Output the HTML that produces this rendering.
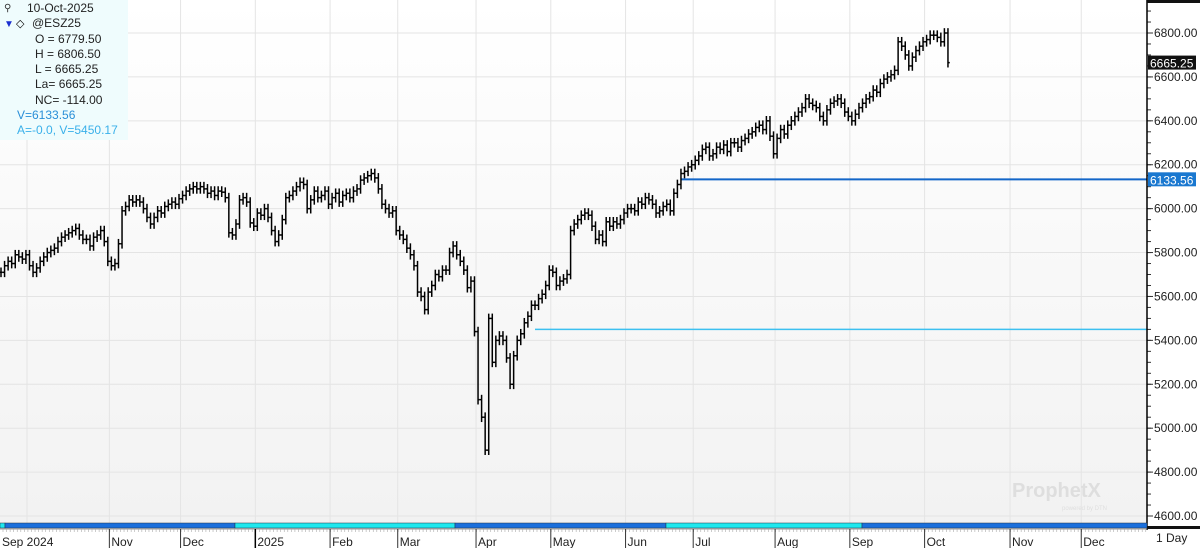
<!DOCTYPE html>
<html><head><meta charset="utf-8"><style>
body{margin:0;width:1200px;height:548px;overflow:hidden;background:#fff;font-family:"Liberation Sans",sans-serif}
svg text{font-family:"Liberation Sans",sans-serif}
</style></head><body>
<svg id="c" width="1200" height="548" xmlns="http://www.w3.org/2000/svg">
<defs><linearGradient id="bg" x1="0" y1="0" x2="0" y2="1"><stop offset="0" stop-color="#ffffff"/><stop offset="1" stop-color="#f2f2f2"/></linearGradient></defs>
<rect x="0" y="0" width="1147" height="523" fill="url(#bg)"/>
<g id="grid"></g>
<g id="lines"></g>
<g id="bars"></g>
<g id="axis"></g>
<text x="1012" y="497" font-size="20" font-weight="bold" fill="#dedede">ProphetX</text>
<text x="1062" y="510" font-size="6" fill="#dedede">powered by DTN</text>
<g>
<rect x="0" y="0" width="128" height="140" fill="#effcfd"/>
<text x="4" y="11" font-size="10" fill="#333">⚲</text>
<text x="27" y="12" font-size="12" fill="#222">10-Oct-2025</text>
<text x="4" y="27" font-size="10" fill="#1a2fd0">▼</text>
<text x="16" y="27" font-size="11" fill="#000">◇</text>
<text x="32" y="27" font-size="12" fill="#222">@ESZ25</text>
<text x="35" y="43" font-size="12" fill="#222">O = 6779.50</text>
<text x="35" y="58" font-size="12" fill="#222">H = 6806.50</text>
<text x="35" y="73" font-size="12" fill="#222">L = 6665.25</text>
<text x="35" y="88" font-size="12" fill="#222">La= 6665.25</text>
<text x="35" y="104" font-size="12" fill="#222">NC= -114.00</text>
<text x="17" y="119" font-size="12" fill="#2a8fd8">V=6133.56</text>
<text x="17" y="134" font-size="12" fill="#3ab0ea">A=-0.0, V=5450.17</text>
</g>
</svg>
<script>
const priceTicks=[4600,4800,5000,5200,5400,5600,5800,6000,6200,6400,6600,6800];
const monthLabels=["Sep 2024","Nov","Dec","2025","Feb","Mar","Apr","May","Jun","Jul","Aug","Sep","Oct","Nov","Dec"];
const monthStartIdx=[0,31,51,72,93,112,134,155,176,195,218,239,260,284,304];
const closes=[5710,5740,5760,5750,5790,5780,5770,5790,
5740,5710,5730,5760,5780,5800,5810,5820,5850,5870,5880,5890,5900,5910,5880,5860,5860,5830,5870,5880,5900,5850,5760,
5740,5750,5840,5990,6010,6040,6030,6040,6030,6000,5960,5930,5960,5990,5980,6010,6020,6030,6020,6045,
6060,6080,6090,6100,6090,6100,6090,6070,6080,6060,6080,6075,6050,5890,5880,5930,6040,6050,6030,5935,
5920,5980,5970,6000,5960,5900,5850,5880,5950,6050,6060,6080,6100,6120,6110,6000,6040,6080,6050,6060,6080,
6020,6050,6070,6030,6060,6070,6050,6080,6090,6130,6140,6150,6160,6140,6090,6020,6000,5980,5990,
5900,5880,5860,5820,5790,5740,5620,5600,5540,5620,5650,5700,5690,5720,5720,5800,5830,5790,5760,5720,5640,
5670,5440,5130,5050,4900,5500,5300,5400,5420,5400,5320,5200,5330,5400,5430,5480,5510,5560,5560,5590,5610,
5650,5720,5710,5650,5670,5680,5700,5900,5930,5950,5970,5980,5970,5920,5860,5880,5850,5940,5920,5940,5930,
5950,5980,6000,6000,5990,6030,6020,6050,6040,6020,5980,5990,6010,6020,5990,6070,6110,6160,6170,6190,6200,
6220,6240,6270,6280,6240,6250,6280,6270,6290,6260,6300,6300,6280,6310,6320,6340,6350,6370,6380,6360,6400,6330,
6250,6320,6360,6340,6380,6400,6420,6440,6460,6500,6480,6470,6460,6420,6400,6450,6480,6490,6500,6480,6440,
6420,6400,6430,6460,6480,6500,6510,6540,6530,6570,6590,6600,6610,6630,6760,6740,6700,6650,6690,6720,6740,
6760,6770,6790,6790,6780,6760,6800,6665];
const hLineValues=[6133.56,5450.17];
const hLineStartIdx=[191,150];
const lastPrice=6665.25;

const NS="http://www.w3.org/2000/svg";
const yOf=v=>33+(6800-v)*0.21955;
const xOf=i=>1+i*3.56;
function mk(tag,attrs,parent){const e=document.createElementNS(NS,tag);for(const k in attrs)e.setAttribute(k,attrs[k]);parent.appendChild(e);return e;}
const grid=document.getElementById('grid'),bars=document.getElementById('bars'),axis=document.getElementById('axis'),lines=document.getElementById('lines');
priceTicks.forEach(v=>{
  const y=yOf(v);
  const g=mk('line',{x1:0,x2:1147,y1:y,y2:y,stroke:'#e4e4e4','stroke-width':1},grid);
  
  
  mk('line',{x1:1147,x2:1153,y1:y,y2:y,stroke:'#333'},axis);
  const t=mk('text',{x:1154,y:y+4,'font-size':12,fill:'#222'},axis);
  t.textContent=v.toFixed(2);
  
  
});
for(let v=4600;v<=6900;v+=50){const y=yOf(v);if(y>0&&y<523)mk('line',{x1:1147,x2:1151,y1:y,y2:y,stroke:'#333'},axis);}
monthStartIdx.forEach((idx,k)=>{
  const x=k===0?27:xOf(idx)-2;
  const g=mk('line',{x1:x,x2:x,y1:0,y2:523,stroke:'#e4e4e4'},grid);
  
  
});
const lc=['#1366c8','#3cc0f0'];
hLineValues.forEach((v,k)=>{
  const l=mk('line',{x1:xOf(hLineStartIdx[k]),x2:1147,y1:yOf(v),y2:yOf(v),stroke:lc[k],'stroke-width':k===0?2:1.5},lines);
  
  
});
closes.forEach((c,i)=>{
  const o=i>0?closes[i-1]:c;
  const h=Math.max(o,c)+22,lo=Math.min(o,c)-22;
  const x=xOf(i);
  const g=mk('g',{stroke:'#000','stroke-width':1.5},bars);
  
  
  mk('line',{x1:x,x2:x,y1:yOf(h),y2:yOf(lo)},g);
  mk('line',{x1:x-1.8,x2:x,y1:yOf(o),y2:yOf(o)},g);
  mk('line',{x1:x,x2:x+1.8,y1:yOf(c),y2:yOf(c)},g);
});
mk('line',{x1:1147,x2:1147,y1:0,y2:530,stroke:'#000','stroke-width':1.5},axis);
mk('rect',{x:1147,y:0,width:53,height:3,fill:'#111'},axis);
function tag(v,bg,name){
  const y=yOf(v);
  const r=mk('rect',{x:1148,y:y-7,width:48,height:14,fill:bg},axis);
  
  
  const t=mk('text',{x:1150,y:y+5,'font-size':12,fill:'#fff'},axis);
  t.textContent=v.toFixed(2);
}
tag(lastPrice,'#111','last-price-tag');
tag(hLineValues[0],'#1a78d0','line-value-tag');
const segs=[[0,5,'#1ee8ee'],[5,235,'#1a6fdc'],[235,455,'#1ee8ee'],[455,666,'#1a6fdc'],[666,862,'#1ee8ee'],[862,1147,'#1a6fdc']];
segs.forEach(s=>{const r=mk('rect',{x:s[0],y:523,width:s[1]-s[0],height:5,fill:s[2],stroke:'#234','stroke-width':0.5},axis);

});
mk('rect',{x:1147,y:526,width:53,height:3,fill:'#111'},axis);
mk('line',{x1:0,x2:1147,y1:529,y2:529,stroke:'#999'},axis);
for(let x=3;x<1147;x+=3.56)mk('line',{x1:x,x2:x,y1:529,y2:532,stroke:'#aaa','stroke-width':0.6},axis);
monthLabels.forEach((m,k)=>{
  const x=k===0?0:xOf(monthStartIdx[k])-2;
  if(k>0)mk('line',{x1:x,x2:x,y1:529,y2:548,stroke:k===3?'#000':'#333','stroke-width':k===3?1.5:1},axis);
  const t=mk('text',{x:x+2,y:546,'font-size':12,fill:'#222'},axis);
  t.textContent=m;
  
  
});
const p=mk('text',{x:1156,y:542,'font-size':12,fill:'#222','font-family':'Liberation Mono'},axis);
p.textContent='1 Day';


</script>
</body></html>
